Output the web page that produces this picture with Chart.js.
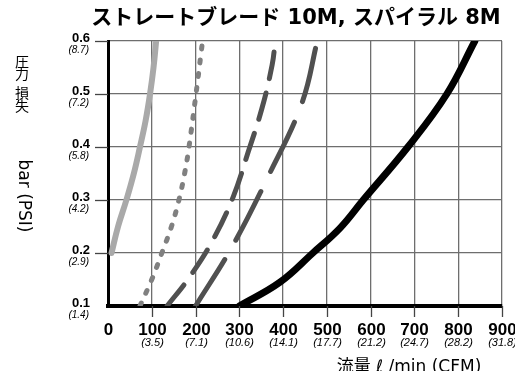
<!DOCTYPE html>
<html>
<head>
<meta charset="utf-8">
<script src="https://cdn.jsdelivr.net/npm/chart.js@4/dist/chart.umd.min.js"></script>
<style>
  html, body { margin: 0; padding: 0; background: #fff; }
  #wrap { position: relative; width: 515px; height: 371px; }
</style>
</head>
<body>
<div id="wrap"><canvas id="flowChart" width="515" height="371"></canvas></div>
<script>
'use strict';

// Axis ticks (flow l/min, pressure bar) and the imperial equivalents
const flowTicks = [0, 100, 200, 300, 400, 500, 600, 700, 800, 900];
const flowCfm = ['', '(3.5)', '(7.1)', '(10.6)', '(14.1)', '(17.7)', '(21.2)', '(24.7)', '(28.2)', '(31.8)'];
const barTicks = [0.1, 0.2, 0.3, 0.4, 0.5, 0.6];
const barPsi = ['(1.4)', '(2.9)', '(4.2)', '(5.8)', '(7.2)', '(8.7)'];

// Curves: flow (l/min) and pressure loss (bar)
const lightFlow = [8, 23, 42, 59, 73, 86, 96, 104, 110];
const lightBar = [0.2, 0.25, 0.3, 0.35, 0.4, 0.45, 0.5, 0.55, 0.6];

const dottedFlow = [73, 100, 123, 145, 162, 175, 185, 201, 216];
const dottedBar = [0.1, 0.15, 0.2, 0.25, 0.3, 0.35, 0.4, 0.5, 0.6];

const shortDashFlow = [135, 185, 240, 286, 320, 352, 375, 382];
const shortDashBar = [0.1, 0.153, 0.225, 0.306, 0.39, 0.474, 0.555, 0.6];

const longDashFlow = [200, 283, 365, 443, 478];
const longDashBar = [0.1, 0.211, 0.343, 0.483, 0.6];

const blackFlow = [300, 393, 468, 530, 583, 685, 774, 838];
const blackBar = [0.1, 0.145, 0.2, 0.247, 0.3, 0.4, 0.5, 0.6];

const titleText = 'ストレートブレード 10M, スパイラル 8M';
const xTitleText = '流量 ℓ /min (CFM)';
const yTitleChars = ['圧', '力', '損', '失'];
const yTitleUnit = 'bar (PSI)';

const gridColor = '#6e6e6e';

function toPoints(xs, ys) {
    return xs.map((x, i) => ({ x: x, y: ys[i] }));
}

function curve(xs, ys, color, width, dash) {
    return {
        data: toPoints(xs, ys),
        borderColor: color,
        borderWidth: width,
        borderDash: dash,
        borderCapStyle: 'round',
        tension: 0.4,
        pointRadius: 0,
        fill: false
    };
}

// Tick marks, two-line tick labels and titles
const labelsPlugin = {
    id: 'labels',
    afterDraw(chart) {
        const ctx = chart.ctx;
        const xs = chart.scales.x;
        const ys = chart.scales.y;
        const area = chart.chartArea;
        ctx.save();

        // y ticks
        ctx.strokeStyle = '#444';
        ctx.lineWidth = 1.3;
        ctx.fillStyle = '#000';
        ctx.textAlign = 'right';
        ctx.textBaseline = 'alphabetic';
        barTicks.forEach((v, i) => {
            const y = Math.round(ys.getPixelForValue(v)) + 0.5;
            if (i > 0) {
                ctx.beginPath();
                ctx.moveTo(area.left - 13, y);
                ctx.lineTo(area.left, y);
                ctx.stroke();
            }
            ctx.font = 'bold 13px "Liberation Sans", Arial, sans-serif';
            ctx.fillText(v.toFixed(1), 90, y + 0.5);
            ctx.font = 'italic 10px "Liberation Sans", Arial, sans-serif';
            ctx.fillText(barPsi[i], 89, y + 11);
        });

        // x ticks
        ctx.textAlign = 'center';
        flowTicks.forEach((v, i) => {
            const x = Math.round(xs.getPixelForValue(v)) + 0.5;
            if (i > 0) {
                ctx.beginPath();
                ctx.moveTo(x, area.bottom);
                ctx.lineTo(x, area.bottom + 11);
                ctx.stroke();
            }
            ctx.font = 'bold 17px "Liberation Sans", Arial, sans-serif';
            ctx.fillText(String(v), x, area.bottom + 29);
            if (flowCfm[i]) {
                ctx.font = 'italic 11px "Liberation Sans", Arial, sans-serif';
                ctx.fillText(flowCfm[i], x, area.bottom + 40);
            }
        });

        // chart title
        ctx.font = 'bold 21px "DejaVu Sans", "Noto Sans CJK JP", sans-serif';
        ctx.textBaseline = 'middle';
        ctx.fillText(titleText, 296, 19);

        // y axis title
        ctx.font = '14px "Noto Sans CJK JP", sans-serif';
        [62, 74, 93, 106].forEach((y, i) => ctx.fillText(yTitleChars[i], 22, y));
        ctx.save();
        ctx.translate(23, 196);
        ctx.rotate(Math.PI / 2);
        ctx.font = '17px "DejaVu Sans", sans-serif';
        ctx.fillText(yTitleUnit, 0, 0);
        ctx.restore();

        // x axis title
        ctx.font = '17px "DejaVu Sans", "Noto Sans CJK JP", sans-serif';
        ctx.textBaseline = 'alphabetic';
        ctx.fillText(xTitleText, 409, 372);

        ctx.restore();
    }
};

new Chart(document.getElementById('flowChart').getContext('2d'), {
    type: 'line',
    data: {
        datasets: [
            curve(lightFlow, lightBar, '#a9a9a9', 6, []),
            curve(dottedFlow, dottedBar, '#808080', 5, [3, 11]),
            curve(shortDashFlow, shortDashBar, '#505050', 5, [27, 15]),
            curve(longDashFlow, longDashBar, '#505050', 5, [55, 22]),
            curve(blackFlow, blackBar, '#000', 7, [])
        ]
    },
    options: {
        responsive: false,
        animation: false,
        layout: { padding: { left: 108, right: 13, top: 41, bottom: 65 } },
        plugins: {
            legend: { display: false },
            tooltip: { enabled: false }
        },
        scales: {
            x: {
                type: 'linear',
                min: flowTicks[0],
                max: flowTicks[flowTicks.length - 1],
                ticks: { display: false, stepSize: 100 },
                grid: { color: gridColor, lineWidth: 1.3, drawTicks: false },
                border: { color: '#000', width: 4 }
            },
            y: {
                type: 'linear',
                min: barTicks[0],
                max: barTicks[barTicks.length - 1],
                ticks: { display: false, stepSize: 0.1 },
                grid: { color: gridColor, lineWidth: 1.3, drawTicks: false },
                border: { color: '#000', width: 3 }
            }
        }
    },
    plugins: [labelsPlugin]
});
</script>
</body>
</html>
